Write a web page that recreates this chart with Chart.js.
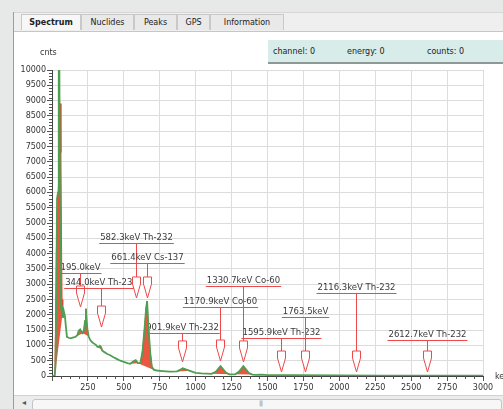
<!DOCTYPE html>
<html>
<head>
<meta charset="utf-8">
<script src="https://cdn.jsdelivr.net/npm/chart.js@4/dist/chart.umd.min.js"></script>
<style>
  body { margin: 0; width: 503px; height: 409px; overflow: hidden; position: relative;
         background: #e7e9e9; font-family: "DejaVu Sans", sans-serif; color: #222; }
  .abs { position: absolute; }
  #borda { left: 13px; top: 12px; width: 1px; height: 397px; background: #9c9c9c; }
  #barraAbas { left: 14px; top: 12px; width: 489px; height: 18px; background: #efefef;
               border-top: 1px solid #d6d6d6; border-bottom: 1px solid #c6c6c6; }
  .aba { top: 14px; height: 16px; line-height: 16px; font-size: 8px; text-align: center;
         background: #e9e9e9; border: 1px solid #c9c9c9; border-bottom: none; box-sizing: border-box; }
  .aba.ativa { background: #f7f7f7; font-weight: bold; }
  #painel { left: 14px; top: 31px; width: 489px; height: 364px; background: #fff; }
  #status { left: 268px; top: 40px; width: 235px; height: 22px; background: #d8ece9;
            border-bottom: 2px solid #8e9896; font-size: 8px; }
  #status span { position: absolute; top: 7px; }
  #rolagem { left: 14px; top: 395px; width: 489px; height: 14px; background: #ececec;
             border-top: 1px solid #d2d2d2; }
  #trilho { left: 32px; top: 399px; width: 468px; height: 10px; background: #f7f7f7;
            border: 1px solid #c4c4c4; border-radius: 3px; }
  #seta { left: 22px; top: 398px; font-size: 8px; color: #555; }
  #pega { left: 259px; top: 399px; font-size: 6px; color: #888; letter-spacing: -1px; }
  canvas { position: absolute; left: 14px; top: 32px; }
</style>
</head>
<body>
<div class="abs" id="painel"></div>
<div class="abs" id="barraAbas"></div>
<div class="abs aba ativa" style="left:21px;width:60px">Spectrum</div>
<div class="abs aba" style="left:81px;width:53px">Nuclides</div>
<div class="abs aba" style="left:134px;width:43px">Peaks</div>
<div class="abs aba" style="left:177px;width:33px">GPS</div>
<div class="abs aba" style="left:210px;width:74px">Information</div>
<div class="abs" id="borda"></div>
<canvas id="myChart" width="489" height="363"></canvas>
<div class="abs" id="status">
  <span style="left:5px">channel: 0</span>
  <span style="left:79px">energy: 0</span>
  <span style="left:159px">counts: 0</span>
</div>
<div class="abs" id="rolagem"></div>
<div class="abs" id="trilho"></div>
<div class="abs" id="seta">&#9666;</div>
<div class="abs" id="pega">|||</div>

<script>
    // Espectro medido (energia em keV, contagens)
    const energia = [0, 18, 24, 30, 35, 42, 47, 51, 56, 60,
      64, 70, 76, 83, 90, 97, 104, 115, 130, 150,
      165, 178, 186, 196, 205, 214, 222, 230, 236, 241,
      247, 255, 265, 280, 295, 310, 315, 325, 333, 341,
      350, 365, 385, 405, 425, 450, 475, 500, 525, 545,
      565, 583, 598, 615, 630, 645, 655, 662, 670, 683,
      695, 710, 730, 770, 820, 870, 895, 911, 930, 960,
      1000, 1040, 1080, 1110, 1140, 1160, 1173, 1190, 1210, 1235,
      1260, 1275, 1300, 1320, 1332, 1350, 1370, 1395, 1420, 1460,
      1500, 1700, 2000, 2300, 2600, 3000];
    const contagens = [0, 0, 300, 2500, 5800, 6000, 10400, 10400, 5000, 2500,
      2200, 2250, 1900, 2100, 1950, 1600, 1280, 1250, 1230, 1260,
      1280, 1350, 1480, 1520, 1450, 1400, 1480, 1800, 2200, 1800,
      1500, 1300, 1180, 1100, 1050, 1000, 960, 945, 985, 950,
      830, 780, 720, 680, 620, 560, 500, 460, 420, 400,
      470, 520, 420, 420, 800, 1600, 2200, 2450, 1700, 800,
      300, 200, 180, 160, 140, 150, 210, 250, 220, 170,
      100, 85, 80, 70, 140, 250, 320, 230, 110, 55,
      50, 55, 140, 250, 320, 220, 100, 45, 40, 45,
      30, 25, 20, 15, 15, 10];

    // Regiões de pico (preenchidas em vermelho), separadas por null
    const picoEnergia = [20, 24, 30, 40, 50, 58, 62, 66, 70, 75, null,
      165, 178, 186, 196, 205, 214, null,
      214, 222, 230, 236, 241, 247, 255, null,
      315, 325, 333, 341, 350, null,
      545, 565, 583, 598, null,
      598, 615, 630, 645, 655, 662, 670, 683, 695, 710, null,
      870, 895, 911, 930, 960, null,
      1110, 1140, 1160, 1173, 1190, 1210, 1235, null,
      1275, 1300, 1320, 1332, 1350, 1370, 1395];
    const picoContagens = [0, 1500, 4000, 5500, 7000, 8900, 7300, 4500, 2500, 2100, null,
      1280, 1350, 1480, 1520, 1450, 1400, null,
      1400, 1480, 1800, 2200, 1800, 1500, 1300, null,
      960, 945, 985, 950, 830, null,
      400, 470, 520, 420, null,
      420, 420, 800, 1600, 2200, 2450, 1700, 800, 300, 200, null,
      150, 210, 250, 220, 170, null,
      70, 140, 250, 320, 230, 110, 55, null,
      55, 140, 250, 320, 220, 100, 45];

    // Marcações dos nuclídeos
    const marcaEnergia = [195.0, 344.0, 582.3, 661.4, 901.9, 1170.9, 1330.7, 1595.9, 1763.5, 2116.3, 2612.7];
    const marcaTexto = ["195.0keV", "344.0keV Th-232", "582.3keV Th-232", "661.4keV Cs-137",
      "901.9keV Th-232", "1170.9keV Co-60", "1330.7keV Co-60", "1595.9keV Th-232",
      "1763.5keV", "2116.3keV Th-232", "2612.7keV Th-232"];

    // Layout das marcações (em contagens): altura do sublinhado e ponta da seta
    const marcaNivel = [3370, 2880, 4350, 3690, 1400, 2250, 2940, 1240, 1930, 2710, 1180];
    const marcaPonta = [2255, 1600, 2550, 2550, 460, 490, 460, 130, 130, 130, 130];

    const corMarca = "#ec4a4a";
    const fonteEixo = { family: "DejaVu Sans", size: 8 };

    // Função que monta os pontos {x, y}
    function montarPontos(xs, ys) {
      return xs.map(function(x, i) {
        return { x: x, y: ys[i] };
      });
    }

    // Função que monta a linha de base de cada região (extremos de cada trecho)
    function montarBase(xs, ys) {
      const base = [];
      let inicio = 0;
      for (let i = 0; i <= xs.length; i++) {
        if (i === xs.length || xs[i] === null) {
          base.push({ x: xs[inicio], y: ys[inicio] });
          base.push({ x: xs[i - 1], y: ys[i - 1] });
          if (i < xs.length) base.push({ x: null, y: null });
          inicio = i + 1;
        }
      }
      return base;
    }

    // Plugin que desenha as marcações (texto, sublinhado, haste e seta)
    const marcasPlugin = {
      id: "marcas",
      beforeDatasetsDraw(chart) {
        const ctx = chart.ctx;
        const x = chart.scales.x;
        const y = chart.scales.y;
        ctx.save();
        ctx.font = '8.5px "DejaVu Sans"';
        ctx.textAlign = "center";
        ctx.textBaseline = "bottom";
        ctx.lineWidth = 1;
        marcaEnergia.forEach(function(e, i) {
          const px = Math.round(x.getPixelForValue(e)) + 0.5;
          const py = Math.round(y.getPixelForValue(marcaNivel[i])) + 0.5;
          const ponta = y.getPixelForValue(marcaPonta[i]);
          const topo = ponta - 21;
          const w = ctx.measureText(marcaTexto[i]).width;

          ctx.fillStyle = "#3a3a3a";
          ctx.fillText(marcaTexto[i], px, py - 1);

          ctx.strokeStyle = corMarca;
          ctx.beginPath();
          ctx.moveTo(px - w / 2 - 1, py);
          ctx.lineTo(px + w / 2 + 1, py);
          ctx.moveTo(px, py);
          ctx.lineTo(px, topo);
          ctx.stroke();

          ctx.beginPath();
          ctx.moveTo(px - 4, topo);
          ctx.lineTo(px + 4, topo);
          ctx.lineTo(px + 4, topo + 7);
          ctx.lineTo(px, ponta);
          ctx.lineTo(px - 4, topo + 7);
          ctx.closePath();
          ctx.fillStyle = "#ffffff";
          ctx.fill();
          ctx.stroke();
        });
        ctx.restore();
      }
    };

    // Plugin para marcas menores dos eixos e títulos "cnts" / "keV"
    const eixosPlugin = {
      id: "eixos",
      afterDraw(chart) {
        const ctx = chart.ctx;
        const x = chart.scales.x;
        const y = chart.scales.y;
        const area = chart.chartArea;
        ctx.save();
        ctx.strokeStyle = "#555";
        ctx.lineWidth = 1;
        ctx.beginPath();
        for (let v = 0; v <= 3000; v += 62.5) {
          if (v % 250 === 0) continue;
          const px = Math.round(x.getPixelForValue(v)) + 0.5;
          ctx.moveTo(px, area.bottom);
          ctx.lineTo(px, area.bottom + 3);
        }
        for (let v = 0; v <= 10000; v += 100) {
          if (v % 500 === 0) continue;
          const py = Math.round(y.getPixelForValue(v)) + 0.5;
          ctx.moveTo(area.left - 3, py);
          ctx.lineTo(area.left, py);
        }
        ctx.stroke();

        ctx.fillStyle = "#333";
        ctx.font = '8px "DejaVu Sans"';
        ctx.textBaseline = "middle";
        ctx.textAlign = "left";
        ctx.fillText("cnts", 26, 21);
        ctx.fillText("keV", area.right + 12, area.bottom + 1);
        ctx.restore();
      }
    };

    // Criar o gráfico
    const ctx = document.getElementById("myChart").getContext("2d");
    new Chart(ctx, {
      type: "line",
      data: {
        datasets: [{
          label: "Espectro",
          data: montarPontos(energia, contagens),
          borderColor: "#4f9f52",
          borderWidth: 1.8,
          pointRadius: 0,
          fill: false
        }, {
          label: "Picos",
          data: montarPontos(picoEnergia, picoContagens),
          borderColor: "#e3452f",
          backgroundColor: "#ea5640",
          borderWidth: 1,
          pointRadius: 0,
          spanGaps: false,
          fill: "+1"
        }, {
          label: "Base",
          data: montarBase(picoEnergia, picoContagens),
          borderColor: "rgba(0,0,0,0)",
          borderWidth: 0,
          pointRadius: 0,
          spanGaps: false,
          fill: false
        }]
      },
      options: {
        responsive: false,
        animation: false,
        layout: { padding: { top: 38, right: 20, bottom: 3, left: 0 } },
        plugins: {
          legend: { display: false },
          tooltip: { enabled: false }
        },
        scales: {
          x: {
            type: "linear",
            min: 0,
            max: 3000,
            afterFit: function(scale) { scale.height = 16; },
            ticks: {
              stepSize: 250,
              autoSkip: false,
              maxRotation: 0,
              padding: 2,
              color: "#333",
              font: fonteEixo,
              callback: function(v) { return v === 0 ? "" : v; }
            },
            grid: { color: "#dcdcdc", tickColor: "#555", tickLength: 5 },
            border: { color: "#444" }
          },
          y: {
            min: 0,
            max: 10000,
            afterFit: function(scale) { scale.width = 38; },
            ticks: {
              stepSize: 500,
              autoSkip: false,
              padding: 1,
              color: "#333",
              font: fonteEixo,
              callback: function(v) { return v; }
            },
            grid: { color: "#dcdcdc", tickColor: "#555", tickLength: 5 },
            border: { color: "#444" }
          }
        }
      },
      plugins: [marcasPlugin, eixosPlugin]
    });
</script>
</body>
</html>
